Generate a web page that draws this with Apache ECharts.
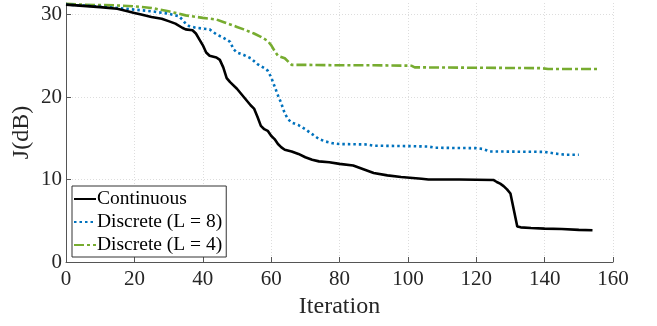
<!DOCTYPE html>
<html>
<head>
<meta charset="utf-8">
<script src="https://cdn.jsdelivr.net/npm/echarts@6/dist/echarts.min.js"></script>
<style>
  html, body { margin: 0; padding: 0; background: #fff; }
  #chart { width: 657px; height: 326px; }
</style>
</head>
<body>
<div id="chart"></div>
<script>
// values
var xTicks = [0, 20, 40, 60, 80, 100, 120, 140, 160];
var yTicks = [0, 10, 20, 30];

var contIter = [0, 5, 10, 15, 18, 20, 22, 25, 28, 30, 32, 34, 35, 37, 38, 39, 40, 41, 42, 44, 45, 46, 47, 48, 50, 52, 54, 55, 56, 57, 58, 59, 60, 61, 62, 63, 64, 66, 68, 70, 72, 74, 77, 80, 84, 86, 88, 90, 94, 98, 104, 106, 115, 125, 126, 127, 128, 129, 130, 131, 132, 133, 136, 140, 145, 150, 154];
var contJ    = [31.2, 31.05, 30.9, 30.7, 30.4, 30.2, 30.0, 29.7, 29.5, 29.2, 28.9, 28.4, 28.2, 28.1, 27.7, 27.0, 26.3, 25.4, 25.0, 24.8, 24.5, 23.6, 22.3, 21.8, 21.0, 20.0, 19.0, 18.6, 17.6, 16.5, 16.1, 15.9, 15.3, 14.9, 14.3, 13.9, 13.6, 13.4, 13.1, 12.7, 12.4, 12.2, 12.1, 11.9, 11.7, 11.4, 11.1, 10.8, 10.5, 10.3, 10.1, 10.0, 10.0, 9.95, 9.7, 9.5, 9.2, 8.8, 8.3, 6.3, 4.3, 4.2, 4.12, 4.05, 4.0, 3.9, 3.85];

var l8Iter = [0, 5, 10, 15, 20, 25, 30, 33, 34, 35, 36, 38, 42, 44, 46, 48, 49, 50, 52, 54, 56, 58, 59, 60, 61, 62, 63, 64, 65, 66, 68, 70, 72, 74, 76, 78, 80, 88, 90, 100, 106, 108, 120, 122, 124, 140, 143, 146, 150];
var l8J    = [31.2, 31.1, 30.95, 30.8, 30.6, 30.4, 30.1, 29.8, 29.4, 28.9, 28.6, 28.4, 28.2, 27.6, 27.2, 26.7, 25.8, 25.4, 25.1, 24.7, 24.0, 23.5, 23.2, 22.4, 21.3, 20.2, 19.2, 18.0, 17.3, 16.9, 16.6, 16.1, 15.5, 14.9, 14.6, 14.4, 14.3, 14.25, 14.1, 14.05, 14.0, 13.85, 13.8, 13.7, 13.4, 13.35, 13.15, 13.0, 13.0];

var l4Iter = [0, 5, 10, 15, 20, 25, 30, 35, 40, 44, 46, 48, 50, 52, 55, 57, 59, 60, 61, 62, 64, 65, 66, 70, 80, 90, 101, 102, 120, 139, 141, 156];
var l4J    = [31.3, 31.2, 31.15, 31.1, 31.0, 30.8, 30.4, 29.9, 29.6, 29.4, 29.1, 28.8, 28.5, 28.2, 27.7, 27.3, 26.8, 26.3, 25.6, 25.0, 24.7, 24.3, 23.9, 23.9, 23.85, 23.85, 23.8, 23.6, 23.55, 23.5, 23.4, 23.4];

function pairs(xs, ys) {
    var out = [];
    for (var i = 0; i < xs.length; i++) out.push([xs[i], ys[i]]);
    return out;
}

var serif = '"Liberation Serif","DejaVu Serif",serif';
var axisColor = '#555';
var textColor = '#262626';
var gridLine = {show: true, lineStyle: {color: '#dddddd', type: [1, 2], width: 1}};

var chart = echarts.init(document.getElementById('chart'), null, {renderer: 'canvas'});

var option = {
    backgroundColor: '#fff',
    animation: false,
    grid: {left: 66, right: 44, top: 3, bottom: 64},
    legend: {
        orient: 'vertical',
        left: 72,
        top: 186,
        backgroundColor: '#fff',
        borderColor: '#333',
        borderWidth: 1,
        borderRadius: 0,
        padding: [3, 4, 2, 1],
        itemGap: 3,
        itemWidth: 22,
        itemHeight: 14,
        itemStyle: {opacity: 0},
        textStyle: {fontFamily: serif, fontSize: 19.5, color: '#000', lineHeight: 20, padding: [0, 0, 0, -4]},
        data: ['Continuous', 'Discrete (L = 8)', 'Discrete (L = 4)']
    },
    xAxis: {
        type: 'value',
        min: 0,
        max: 160,
        interval: 20,
        name: 'Iteration',
        nameLocation: 'middle',
        nameGap: 32,
        nameTextStyle: {fontFamily: serif, fontSize: 24, color: textColor},
        axisLine: {show: true, lineStyle: {color: axisColor, width: 1}},
        axisTick: {show: true, inside: true, length: 5, lineStyle: {color: axisColor}},
        axisLabel: {fontFamily: serif, fontSize: 21, color: textColor, margin: 7},
        splitLine: gridLine
    },
    yAxis: {
        type: 'value',
        min: 0,
        max: 31.4,
        interval: 10,
        name: 'J(dB)',
        nameLocation: 'middle',
        nameGap: 32,
        nameMoveOverlap: false,
        nameTextStyle: {fontFamily: serif, fontSize: 24, color: textColor},
        axisLine: {show: true, lineStyle: {color: axisColor, width: 1}},
        axisTick: {show: true, inside: true, length: 5, lineStyle: {color: axisColor}, customValues: yTicks},
        axisLabel: {fontFamily: serif, fontSize: 21, color: textColor, margin: 4, customValues: yTicks},
        splitLine: gridLine
    },
    series: [
        {
            name: 'Continuous',
            type: 'line',
            data: pairs(contIter, contJ),
            symbol: 'none',
            showSymbol: false,
            lineStyle: {color: '#000000', width: 2.6},
            itemStyle: {color: '#000000'},
            z: 3
        },
        {
            name: 'Discrete (L = 8)',
            type: 'line',
            data: pairs(l8Iter, l8J),
            symbol: 'none',
            showSymbol: false,
            lineStyle: {color: '#0072BD', width: 2.6, type: [2.5, 3]},
            itemStyle: {color: '#0072BD'},
            z: 2
        },
        {
            name: 'Discrete (L = 4)',
            type: 'line',
            data: pairs(l4Iter, l4J),
            symbol: 'none',
            showSymbol: false,
            lineStyle: {color: '#77AC30', width: 2.6, type: [10, 3, 3, 3]},
            itemStyle: {color: '#77AC30'},
            z: 1
        }
    ]
};

chart.setOption(option);
</script>
</body>
</html>
